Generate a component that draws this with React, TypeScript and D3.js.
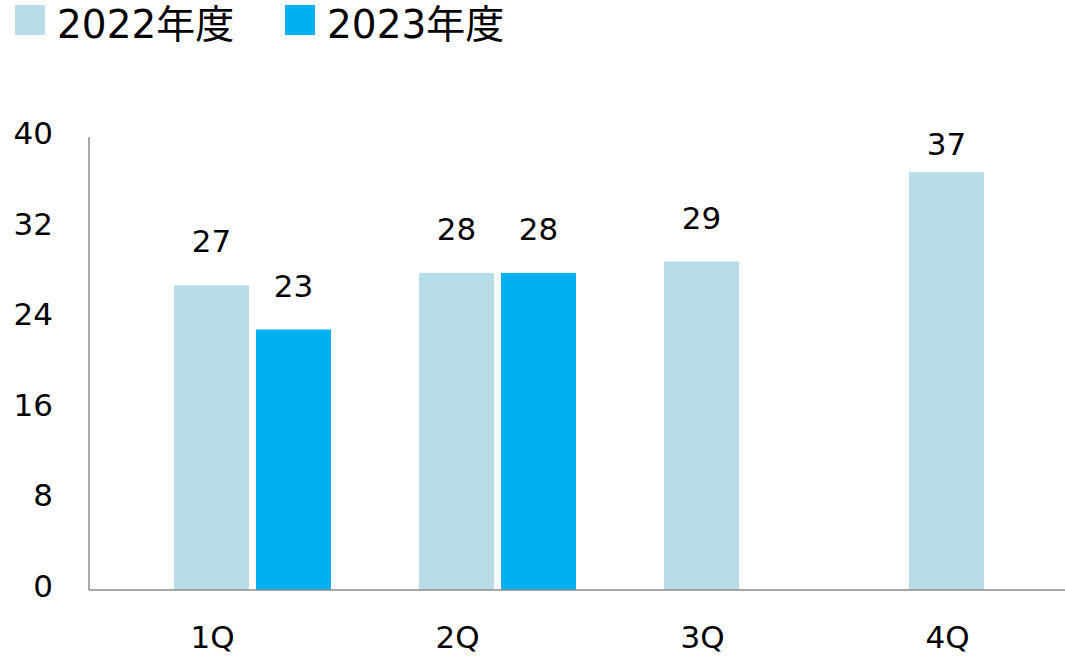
import React from "react";
import * as d3 from "d3";

const categories = ["1Q", "2Q", "3Q", "4Q"];
const seriesNames = ["", "2022年度", "2023年度"];
const values2022 = [26.9, 28.0, 29.0, 36.9];
const values2023: (number | null)[] = [23.0, 28.0, null, null];
const yTicks = [0, 8, 16, 24, 32, 40];
const colors: Record<string, string> = { "2022年度": "#B7DDE8", "2023年度": "#00B0F0" };

const W = 1065;
const H = 664;
const FONT = "'DejaVu Sans', 'Noto Sans CJK JP', sans-serif";

export default function App() {
  const x = d3.scaleBand<string>().domain(categories).range([89, 1069]).padding(0);
  const inner = d3
    .scaleBand<string>()
    .domain(seriesNames)
    .range([3, x.bandwidth() - 3])
    .paddingInner(7 / 82)
    .paddingOuter(0);
  const y = d3.scaleLinear().domain([0, 40]).range([590, 137]);

  const bars: { cat: string; s: string; v: number }[] = [];
  categories.forEach((c, i) => {
    bars.push({ cat: c, s: "2022年度", v: values2022[i] });
    const v3 = values2023[i];
    if (v3 != null) bars.push({ cat: c, s: "2023年度", v: v3 });
  });
  const fmt = d3.format(".0f");

  const legend = [
    { name: "2022年度", rx: 15, tx: 57 },
    { name: "2023年度", rx: 285, tx: 327 },
  ];

  return (
    <svg
      width={W}
      height={H}
      style={{ position: "absolute", left: 0, top: 0, background: "#fff" }}
      fontFamily={FONT}
    >
      {legend.map((l) => (
        <g key={l.name}>
          <rect x={l.rx} y={5} width={30} height={30} fill={colors[l.name]} />
          <text x={l.tx} y={38} fontSize={39} fill="#000">
            {l.name}
          </text>
        </g>
      ))}
      {bars.map((b) => {
        const bx = (x(b.cat) ?? 0) + (inner(b.s) ?? 0);
        const top = y(b.v);
        return (
          <g key={b.cat + b.s}>
            <rect x={bx} y={top} width={inner.bandwidth()} height={y(0) - top} fill={colors[b.s]} />
            <text
              x={bx + inner.bandwidth() / 2}
              y={Math.max(top - 33, 155)}
              fontSize={31}
              textAnchor="middle"
              fill="#000"
            >
              {fmt(b.v)}
            </text>
          </g>
        );
      })}
      <line x1={89} x2={89} y1={y(40)} y2={y(0)} stroke="#8c8c8c" strokeWidth={1.5} />
      <line x1={89} x2={1065} y1={y(0)} y2={y(0)} stroke="#8c8c8c" strokeWidth={1.5} />
      {yTicks.map((t) => (
        <text key={t} x={53} y={y(t) + 7} fontSize={31} textAnchor="end" fill="#000">
          {t}
        </text>
      ))}
      {categories.map((c) => (
        <text key={c} x={(x(c) ?? 0) + x.bandwidth() / 2 + 1} y={648} fontSize={31} textAnchor="middle" fill="#000">
          {c}
        </text>
      ))}
    </svg>
  );
}
